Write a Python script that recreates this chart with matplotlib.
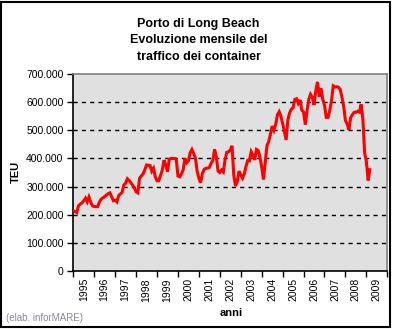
import numpy as np
import matplotlib
matplotlib.use("Agg")
import matplotlib.pyplot as plt
from matplotlib.ticker import FuncFormatter
from matplotlib.patches import Rectangle

plt.rcParams["font.family"] = ["Liberation Sans", "DejaVu Sans"]

# ── dati: TEU mensili (migliaia), gennaio 1995 - marzo 2009 ──
anno_inizio = 1995
teu_1995 = [214, 212, 208, 232, 238, 242, 250, 259, 246, 263, 245, 232]
teu_1996 = [229, 229, 229, 246, 256, 260, 265, 270, 275, 278, 264, 250]
teu_1997 = [252, 246, 268, 274, 280, 306, 312, 328, 322, 314, 305, 295]
teu_1998 = [282, 278, 330, 338, 345, 360, 377, 376, 375, 355, 365, 335]
teu_1999 = [321, 321, 340, 358, 394, 377, 353, 397, 400, 400, 400, 398]
teu_2000 = [338, 335, 345, 360, 400, 385, 392, 420, 432, 418, 402, 355]
teu_2001 = [330, 314, 347, 361, 365, 366, 368, 383, 394, 432, 406, 355]
teu_2002 = [350, 359, 352, 395, 422, 424, 430, 445, 340, 302, 318, 355]
teu_2003 = [342, 330, 345, 372, 393, 392, 424, 412, 395, 432, 428, 405]
teu_2004 = [370, 325, 385, 445, 460, 485, 515, 500, 520, 555, 566, 550]
teu_2005 = [525, 495, 466, 537, 562, 575, 580, 610, 612, 596, 608, 572]
teu_2006 = [565, 520, 570, 610, 628, 618, 590, 640, 672, 620, 650, 610]
teu_2007 = [590, 546, 546, 570, 605, 658, 654, 655, 653, 645, 618, 585]
teu_2008 = [535, 522, 502, 545, 556, 564, 564, 568, 565, 592, 540, 420]
teu_2009 = [390, 322, 360]

anni = list(range(1995, 2010))
y_ticks = [0, 100000, 200000, 300000, 400000, 500000, 600000, 700000]

teu = np.array(teu_1995 + teu_1996 + teu_1997 + teu_1998 + teu_1999 + teu_2000
               + teu_2001 + teu_2002 + teu_2003 + teu_2004 + teu_2005
               + teu_2006 + teu_2007 + teu_2008 + teu_2009) * 1000
mesi = anno_inizio + np.arange(len(teu)) / 12


def main():
    fig = plt.figure(figsize=(3.94, 3.29), dpi=100)
    ax = fig.add_axes([0.186, 0.176, 0.797, 0.599])
    ax.set_facecolor("#e0e0e0")

    # griglia tratteggiata
    for y in y_ticks[1:-1]:
        ax.axhline(y, color="black", lw=1.0, dashes=(3, 3), zorder=1)

    ax.plot(mesi, teu, color="#ff0000", lw=2.2, zorder=3, solid_joinstyle="miter")

    ax.set_xlim(anni[0], anni[-1] + 1)
    ax.set_ylim(0, 700000)
    ax.set_yticks(y_ticks)
    ax.yaxis.set_major_formatter(
        FuncFormatter(lambda v, p: f"{v:,.0f}".replace(",", ".")))
    ax.set_xticks(anni + [anni[-1] + 1])
    ax.set_xticklabels([])
    ax.set_xticks([a + 0.5 for a in anni], minor=True)
    ax.set_xticklabels([str(a) for a in anni], minor=True, rotation=90,
                       fontsize=7.5)
    ax.tick_params(axis="x", which="minor", length=0, pad=5)
    ax.tick_params(axis="x", which="major", direction="out", length=4,
                   width=1, color="black")
    ax.tick_params(axis="y", direction="out", length=4, width=1,
                   labelsize=7.5, pad=3)

    for s in ["top", "right"]:
        ax.spines[s].set_color("#808080")
        ax.spines[s].set_linewidth(1.2)
    for s in ["left", "bottom"]:
        ax.spines[s].set_color("black")
        ax.spines[s].set_linewidth(1.2)

    fig.text(0.040, 0.478, "TEU", ha="center", va="center", rotation=90,
             fontsize=8, fontweight="bold")
    fig.text(0.588, 0.048, "anni", ha="center", va="center",
             fontsize=8, fontweight="bold")

    fig.text(0.504, 0.877,
             "Porto di Long Beach\nEvoluzione mensile del\ntraffico dei container",
             ha="center", va="center", fontsize=9, fontweight="bold",
             linespacing=1.45)
    fig.text(0.015, 0.033, "(elab. inforMARE)", ha="left", va="center",
             fontsize=7, color="#8a8a9a")

    fig.patches.append(Rectangle((0.003, 0.006), 0.988, 0.989,
                                 transform=fig.transFigure, fill=False,
                                 edgecolor="black", lw=1.5))

    fig.savefig("out.png", dpi=100)
    plt.close(fig)


if __name__ == "__main__":
    main()
